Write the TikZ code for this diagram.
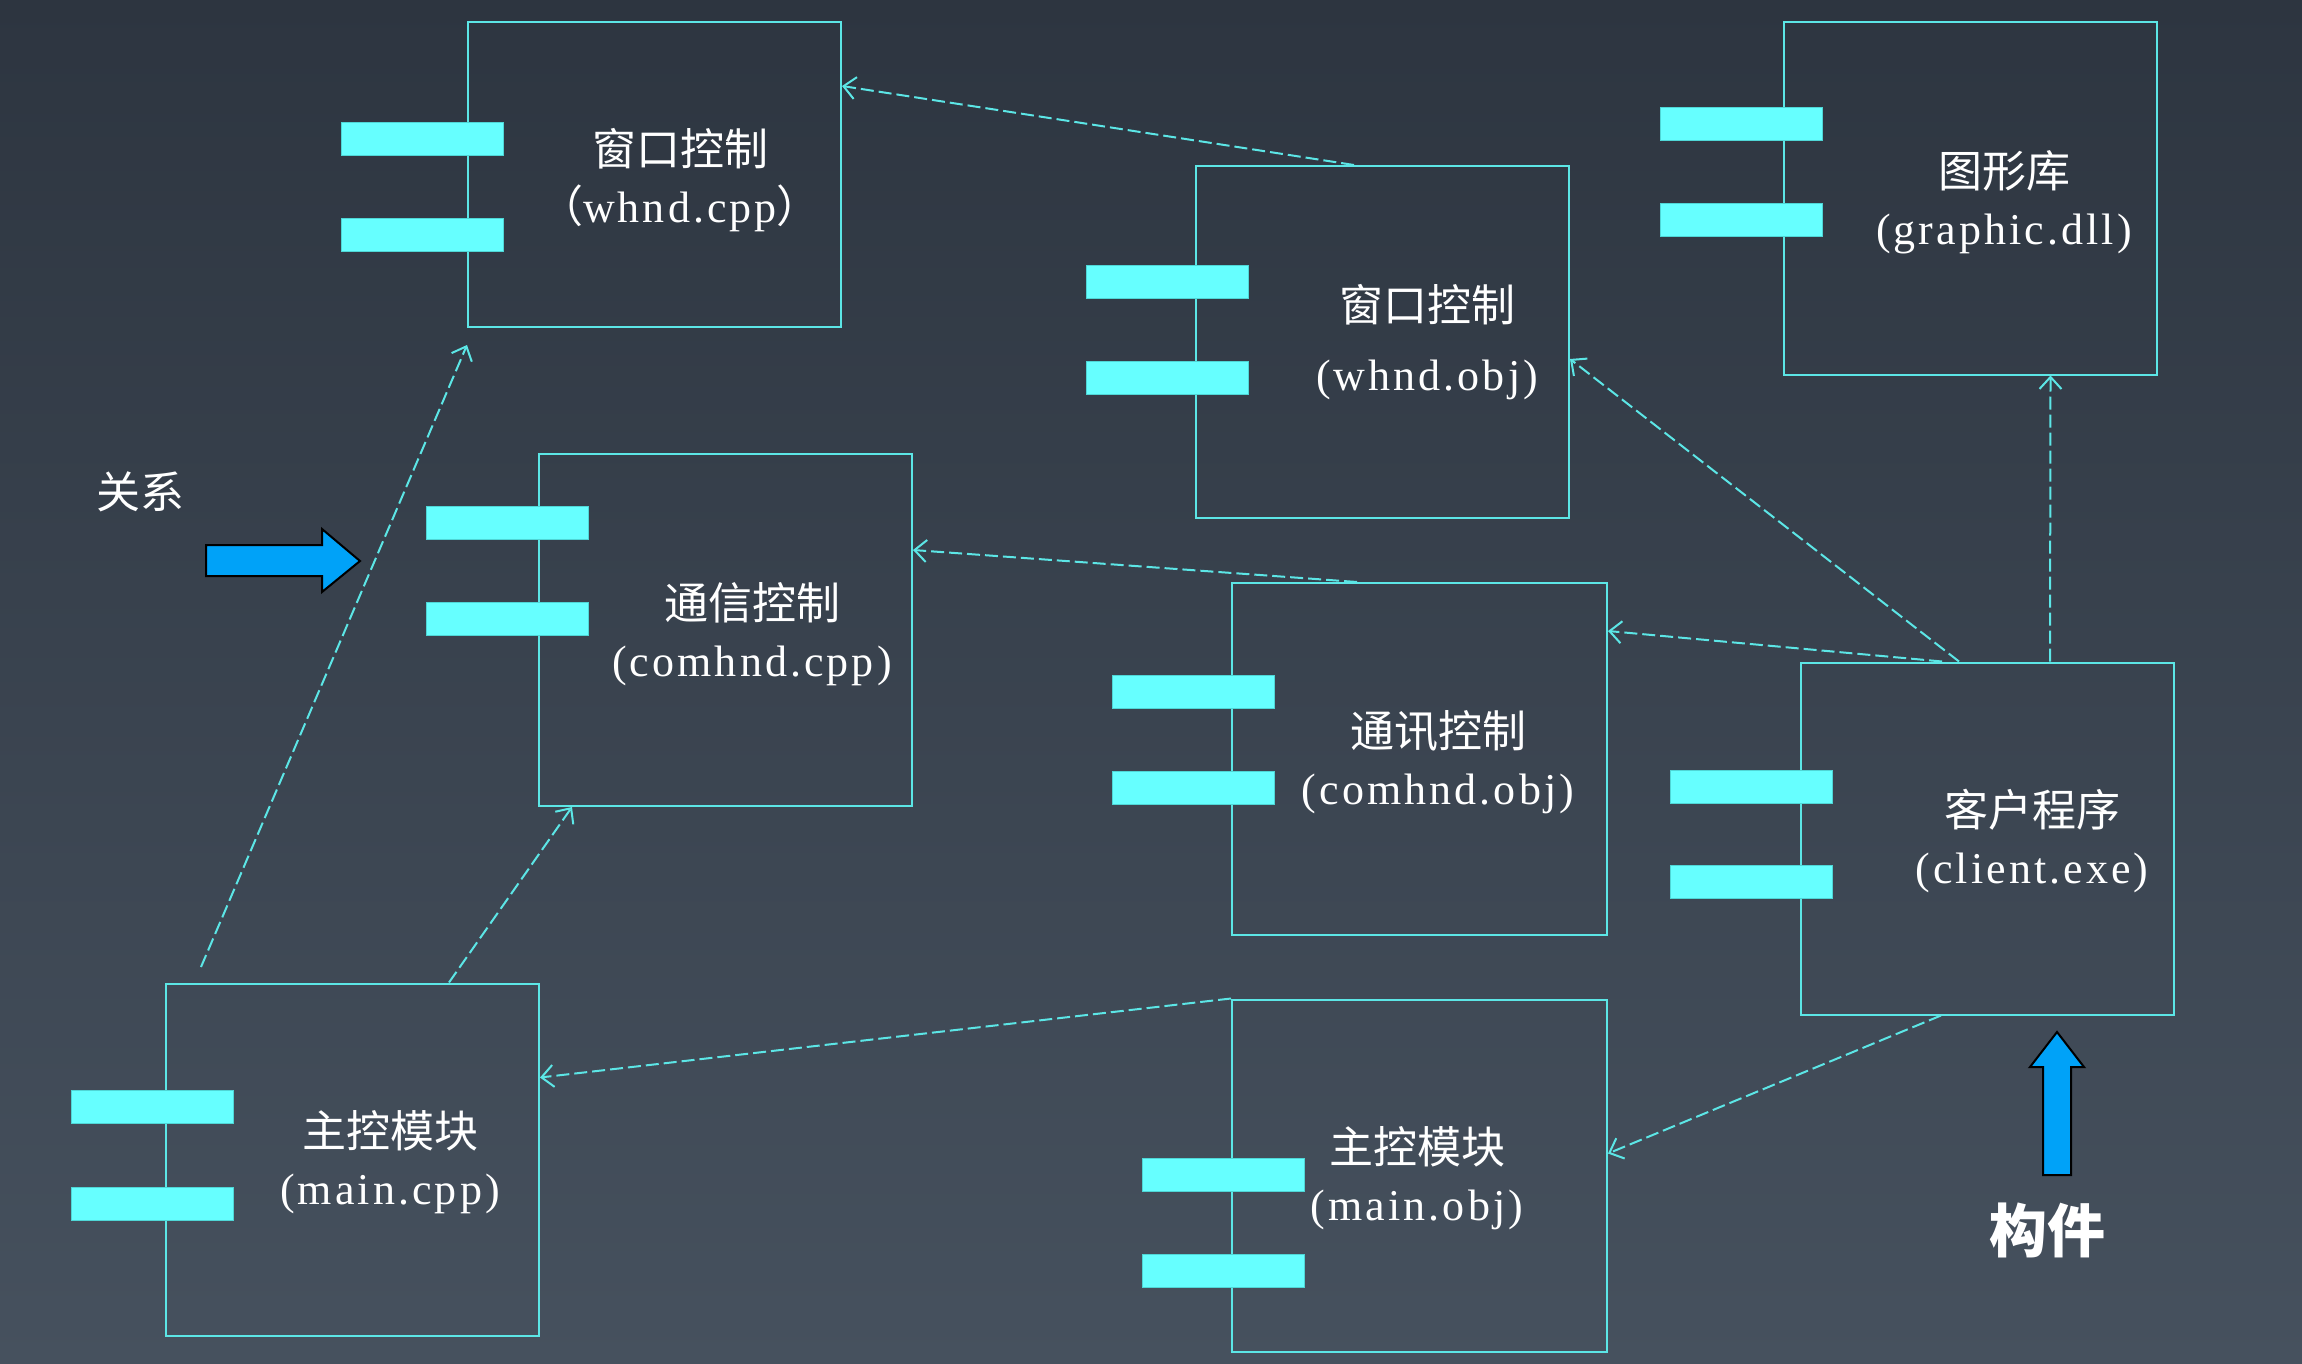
\documentclass[tikz,border=0pt]{standalone}
\usepackage{fontspec}
\setmainfont{Liberation Serif}
\newfontfamily\cjk{Noto Sans CJK SC}
\newfontfamily\lat{Liberation Serif}[LetterSpace=7]
\usetikzlibrary{calc,arrows.meta}

\definecolor{bgtop}{HTML}{2D3540}
\definecolor{bgbot}{HTML}{46515E}
\definecolor{edge}{HTML}{5CE6E6}
\definecolor{barfill}{HTML}{66FFFF}
\definecolor{barline}{HTML}{4FD6D6}
\definecolor{hint}{HTML}{00A2F8}

\begin{document}
\begin{tikzpicture}[x=1pt,y=-1pt,
  comp/.style={draw=edge, line width=2pt, minimum width=373pt, minimum height=352pt, inner sep=0pt},
  compbar/.style={fill=barfill, draw=barline, line width=0.8pt, minimum width=162pt, minimum height=33pt, inner sep=0pt},
  caption/.style={text=white, align=center, font=\fontsize{44}{57}\selectfont, inner sep=0pt},
  dep/.style={draw=edge, line width=2pt, dash pattern=on 13pt off 5pt,
    -{Straight Barb[length=12pt,width=22pt,line width=2pt]}},
  hintarrow/.style={fill=hint, draw=black, line width=2pt, line join=miter},
]
% background
\shade[top color=bgtop, bottom color=bgbot] (0,0) rectangle (2302,1364);
\useasboundingbox (0,0) rectangle (2302,1364);

% component boxes
\node[comp, minimum height=305pt] (wcpp) at (654.5,174.5) {};
\node[comp] (gdll) at (1970,198.5) {};
\node[comp] (wobj) at (1382.5,342) {};
\node[comp] (ccpp) at (725.5,630) {};
\node[comp, minimum width=375pt] (cobj) at (1419.5,759) {};
\node[comp] (cexe) at (1987.5,838.5) {};
\node[comp] (mcpp) at (352.5,1159.5) {};
\node[comp, minimum width=375pt] (mobj) at (1419.5,1175.5) {};

% component tabs
\node[compbar] (wcppA) at (422.5,138.5) {};
\node[compbar] (wcppB) at (422.5,234.5) {};
\node[compbar] (gdllA) at (1741,123.5) {};
\node[compbar] (gdllB) at (1741,219.5) {};
\node[compbar] (wobjA) at (1167.5,282) {};
\node[compbar] (wobjB) at (1167.5,378) {};
\node[compbar] (ccppA) at (507,522.5) {};
\node[compbar] (ccppB) at (507,619) {};
\node[compbar] (cobjA) at (1193.5,692) {};
\node[compbar] (cobjB) at (1193.5,788) {};
\node[compbar] (cexeA) at (1751.5,787) {};
\node[compbar] (cexeB) at (1751.5,882) {};
\node[compbar] (mcppA) at (152,1107) {};
\node[compbar] (mcppB) at (152,1203.5) {};
\node[compbar] (mobjA) at (1223,1174.5) {};
\node[compbar] (mobjB) at (1223,1271) {};

% captions
\node[caption] (wcppT) at (680,180) {{\cjk 窗口控制}\\{\cjk （}{\lat whnd.cpp}{\cjk ）}};
\node[caption] (gdllT) at (2004,202) {{\cjk 图形库}\\{\lat (graphic.dll)}};
\node[caption] (wobjT) at (1427,342) {{\cjk 窗口控制}\\[12pt]{\lat (whnd.obj)}};
\node[caption] (ccppT) at (752,634) {{\cjk 通信控制}\\{\lat (comhnd.cpp)}};
\node[caption] (cobjT) at (1438,762) {{\cjk 通讯控制}\\{\lat (comhnd.obj)}};
\node[caption] (cexeT) at (2032,841) {{\cjk 客户程序}\\{\lat (client.exe)}};
\node[caption] (mcppT) at (390,1162) {{\cjk 主控模块}\\{\lat (main.cpp)}};
\node[caption] (mobjT) at (1417,1178) {{\cjk 主控模块}\\{\lat (main.obj)}};

% dependencies
\coordinate (loose) at (201,967);
\draw[dep] ($(wobj.north west)+(159,0)$) -- ($(wcpp.north east)+(0,65)$);
\draw[dep] ($(cexe.north west)+(159,0)$) -- ($(wobj.north east)+(0,194)$);
\draw[dep] ($(cexe.north west)+(250,0)$) -- ($(gdll.south west)+(268,0)$);
\draw[dep] ($(cobj.north west)+(126,0)$) -- ($(ccpp.north east)+(0,97)$);
\draw[dep] ($(cexe.north west)+(142,0)$) -- ($(cobj.north east)+(0,49)$);
\draw[dep] (mobj.north west) -- ($(mcpp.north east)+(0,95)$);
\draw[dep] ($(cexe.south west)+(141,0)$) -- ($(mobj.north east)+(0,155)$);
\draw[dep] (loose) -- ($(wcpp.south west)+(0,17)$);
\draw[dep] ($(mcpp.north west)+(284,0)$) -- ($(ccpp.south west)+(34,0)$);

% legend: relation
\node[text=white, font=\fontsize{44}{50}\selectfont\cjk, inner sep=0pt] (relT) at (140,492) {关系};
\draw[hintarrow] (206,545) -- (322,545) -- (322,529) -- (360,561) -- (322,592) -- (322,576) -- (206,576) -- cycle;

% legend: component
\draw[hintarrow] (2043,1175) -- (2043,1067) -- (2030,1067) -- (2057,1032) -- (2084,1067) -- (2071,1067) -- (2071,1175) -- cycle;
\node[text=white, font=\fontsize{58}{60}\selectfont\cjk\bfseries, inner sep=0pt] (compT) at (2047,1230) {构件};
\end{tikzpicture}
\end{document}
